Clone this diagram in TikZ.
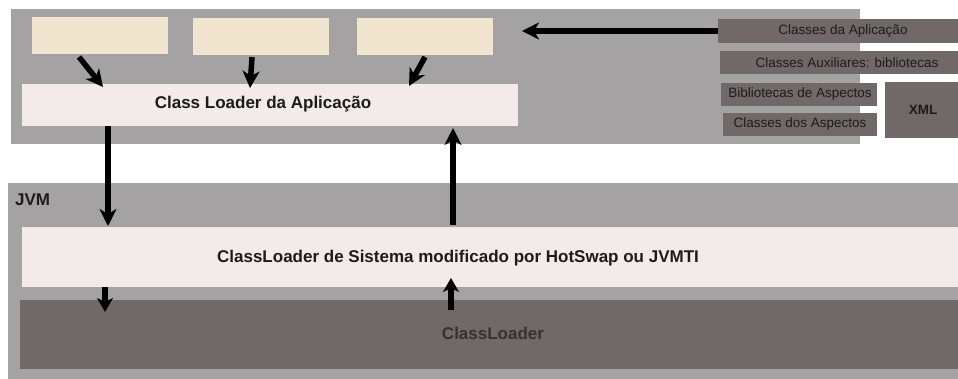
\documentclass[tikz,border=0pt]{standalone}
\usepackage{fontspec}
\setmainfont{Liberation Sans}
\usetikzlibrary{arrows.meta,calc}
\definecolor{panelgray}{HTML}{A4A2A3}
\definecolor{beige}{HTML}{F1E5D0}
\definecolor{pinklight}{HTML}{F3EAEA}
\definecolor{darkbox}{HTML}{716868}
\definecolor{txtdark}{HTML}{1C1C1C}
\begin{document}
\begin{tikzpicture}[x=1pt,y=-1pt,
  box/.style={rectangle,inner sep=0pt,outer sep=0pt,anchor=north west,draw=none},
  bigtxt/.style={font=\fontsize{17}{20}\selectfont\bfseries,text=txtdark,inner sep=0pt},
  smalltxt/.style={font=\fontsize{13.5}{16}\selectfont,text=txtdark,inner sep=0pt},
  arr/.style={line width=5.5pt,-{Stealth[length=17pt,width=17pt,inset=5pt]}},
  sarr/.style={line width=5.5pt,-{Stealth[length=14pt,width=16pt,inset=4pt]}}]
\useasboundingbox (0,0) rectangle (958,378);
\fill[white] (0,0) rectangle (958,378);
% panels
\node[box,fill=panelgray,minimum width=849pt,minimum height=135pt] (top) at (11,9) {};
\node[box,fill=panelgray,minimum width=960pt,minimum height=200pt] (jvm) at (8,183) {};
\node[bigtxt,anchor=west] (jvmlbl) at (15,200) {JVM};
% beige boxes
\node[box,fill=beige,minimum width=136pt,minimum height=37pt] (b1) at (32,17) {};
\node[box,fill=beige,minimum width=136pt,minimum height=37pt] (b2) at (193,18) {};
\node[box,fill=beige,minimum width=136pt,minimum height=37pt] (b3) at (357,18) {};
% application class loader
\node[box,fill=pinklight,minimum width=496pt,minimum height=42pt] (app) at (22,84) {};
\node[bigtxt] (apptxt) at (263,104) {Class Loader da Aplicação};
% right boxes
\node[box,fill=darkbox,minimum width=250pt,minimum height=24pt] (r1) at (718,19) {};
\node[smalltxt] (r1t) at (843,31) {Classes da Aplicação};
\node[box,fill=darkbox,minimum width=254pt,minimum height=23pt] (r2) at (720,51) {};
\node[smalltxt] (r2t) at (847,62.5) {Classes Auxiliares: bibliotecas};
\node[box,fill=darkbox,minimum width=156pt,minimum height=23pt] (r3) at (721,83) {};
\node[smalltxt] (r3t) at (800,94.5) {Bibliotecas de Aspectos};
\node[box,fill=darkbox,minimum width=154pt,minimum height=23pt] (r4) at (723,113) {};
\node[smalltxt] (r4t) at (800,124.5) {Classes dos Aspectos};
\node[box,fill=darkbox,minimum width=80pt,minimum height=56pt] (xml) at (885,82) {};
\node[smalltxt,font=\fontsize{13.5}{16}\selectfont\bfseries] (xmlt) at (923,110) {XML};
% system class loader
\node[box,fill=pinklight,minimum width=940pt,minimum height=60pt] (sys) at (22,227) {};
\node[bigtxt] (systxt) at (458,258) {ClassLoader de Sistema modificado por HotSwap ou JVMTI};
% base class loader
\node[box,fill=darkbox,minimum width=940pt,minimum height=69pt] (cl) at (20,300) {};
\node[bigtxt,text=black!80] (cltxt) at (493,333) {ClassLoader};
% arrows
\draw[arr] ($(b1.south)+(-21,3)$) -- ($(app.north west)+(81,3)$);
\draw[arr] ($(b2.south)+(-9,2)$) -- ($(app.north west)+(228,4)$);
\draw[arr] ($(b3.south)+(0,2)$) -- ($(app.north west)+(387,2)$);
\draw[arr] (r1.west) -- ($(r1.west)+(-196,0)$);
\draw[arr] (app.south west -| 108,0) -- ($(sys.north west)+(86,-1)$);
\draw[arr] ($(sys.north west)+(431,-2)$) -- ($(app.south west)+(431,2)$);
\draw[sarr] ($(sys.south west)+(83,0)$) -- ($(sys.south west)+(83,25)$);
\draw[sarr] ($(cl.north west)+(431,10)$) -- ($(cl.north west)+(431,-22)$);
\end{tikzpicture}
\end{document}
